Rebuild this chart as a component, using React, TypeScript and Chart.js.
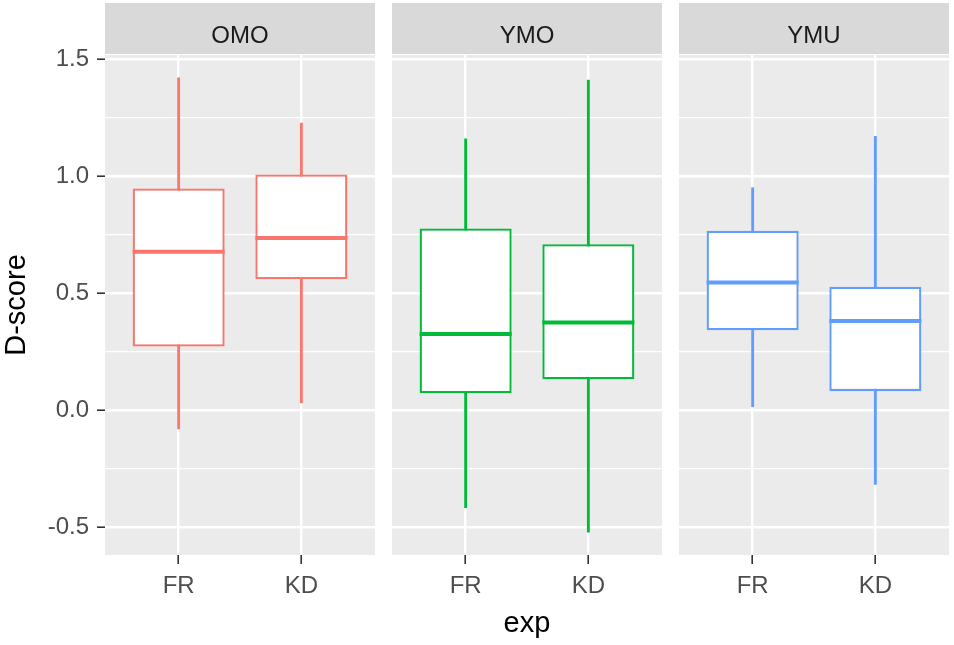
import React, { useEffect, useRef } from "react";
import { Chart, registerables } from "chart.js";

Chart.register(...registerables);

// ---------- data ----------
const facets = ["OMO", "YMO", "YMU"];
const categories = ["FR", "KD"];
const facetColors = ["#F8766D", "#00BA38", "#619CFF"];
// per facet: [FR, KD]
const whiskerLow = [
  [-0.08, 0.031],
  [-0.417, -0.522],
  [0.014, -0.318],
];
const q1 = [
  [0.272, 0.559],
  [0.072, 0.132],
  [0.341, 0.081],
];
const median = [
  [0.677, 0.735],
  [0.325, 0.374],
  [0.545, 0.381],
];
const q3 = [
  [0.947, 1.007],
  [0.776, 0.709],
  [0.766, 0.527],
];
const whiskerHigh = [
  [1.42, 1.226],
  [1.159, 1.41],
  [0.95, 1.17],
];
const yTickLabels = ["-0.5", "0.0", "0.5", "1.0", "1.5"];
const xTitle = "exp";
const yTitle = "D-score";

// ---------- derived ----------
const allLow = Math.min(...whiskerLow.flat());
const allHigh = Math.max(...whiskerHigh.flat());
const yPad = (allHigh - allLow) * 0.05;
const yMin = allLow - yPad;
const yMax = allHigh + yPad;
const yMajors = yTickLabels.map((s) => parseFloat(s));
const yMinors = yMajors.slice(1).map((v, i) => (v + yMajors[i]) / 2);
const yGrid = [...yMajors, ...yMinors].sort((a, b) => a - b);
const isMajor = (v: number) => yMajors.some((m) => Math.abs(m - v) < 1e-9);

const FONT = '"Liberation Sans", Arial, sans-serif';
Chart.defaults.font.family = FONT;

const H = 645;
const AXIS_W = 105;
const PANEL_W = 270;
const panelLefts = [0, 392, 679];
const BOX_W = 0.75; // ggplot box width, in category units
const TICK_FONT = 24;
const TITLE_FONT = 29;

function makeConfig(f: number): any {
  const first = f === 0;
  const mid = f === 1;
  const pts = (a: number[][], b: number[][]) =>
    categories.map((_, i) => ({ x: i + 1, y: [a[f][i], b[f][i]] }));
  const medianPts: any[] = [];
  categories.forEach((_, i) => {
    medianPts.push({ x: i + 1 - BOX_W / 2, y: median[f][i] });
    medianPts.push({ x: i + 1 + BOX_W / 2, y: median[f][i] });
    medianPts.push({ x: i + 1.5, y: null });
  });
  const col = facetColors[f];

  const stripPlugin = {
    id: "stripAndPanel",
    beforeDraw(chart: any) {
      const { ctx, chartArea: a } = chart;
      ctx.save();
      ctx.fillStyle = "#EBEBEB";
      ctx.fillRect(a.left, a.top, a.right - a.left, a.bottom - a.top);
      ctx.fillStyle = "#D9D9D9";
      ctx.fillRect(a.left, 3, a.right - a.left, 51);
      ctx.fillStyle = "#1A1A1A";
      ctx.font = `${TICK_FONT}px ${FONT}`;
      ctx.textAlign = "center";
      ctx.textBaseline = "alphabetic";
      ctx.fillText(facets[f], (a.left + a.right) / 2, 43);
      ctx.restore();
    },
  };

  return {
    type: "bar",
    data: {
      datasets: [
        {
          type: "line",
          label: "median",
          data: medianPts,
          borderColor: col,
          borderWidth: 4,
          borderCapStyle: "butt",
          pointRadius: 0,
          spanGaps: false,
          fill: false,
          order: 1,
        },
        {
          label: "box",
          data: pts(q1, q3),
          backgroundColor: "#FFFFFF",
          borderColor: col,
          borderWidth: 2.3,
          borderSkipped: false,
          inflateAmount: 0,
          grouped: false,
          categoryPercentage: 1,
          barPercentage: BOX_W,
          order: 2,
        },
        {
          label: "whisker",
          data: pts(whiskerLow, whiskerHigh),
          backgroundColor: col,
          borderWidth: 0,
          barThickness: 2.2,
          grouped: false,
          order: 3,
        },
      ],
    },
    options: {
      responsive: false,
      animation: false,
      events: [],
      layout: { padding: { top: 55, left: 0, right: 0, bottom: 0 } },
      plugins: {
        legend: { display: false },
        tooltip: { enabled: false },
        title: { display: false },
      },
      scales: {
        x: {
          type: "linear",
          min: 0.4,
          max: 2.6,
          offset: false,
          grid: {
            offset: false,
            color: "#FFFFFF",
            lineWidth: 2.4,
            drawTicks: true,
            tickLength: 9,
            tickColor: "#333333",
            tickWidth: 1.6,
          },
          border: { display: false },
          ticks: {
            color: "#4D4D4D",
            font: { size: TICK_FONT },
            padding: 8,
            autoSkip: false,
            maxRotation: 0,
            callback: (_v: any, i: number) => categories[i],
          },
          afterBuildTicks: (s: any) => {
            s.ticks = categories.map((_, i) => ({ value: i + 1 }));
          },
          afterFit: (s: any) => {
            s.height = 90;
          },
          title: {
            display: mid,
            text: xTitle,
            color: "#000000",
            font: { size: TITLE_FONT },
            padding: { top: 0, bottom: 4 },
          },
        },
        y: {
          min: yMin,
          max: yMax,
          grid: {
            color: "#FFFFFF",
            lineWidth: (ctx: any) => (ctx.tick && isMajor(ctx.tick.value) ? 2.4 : 1.2),
            drawTicks: first,
            tickLength: 8,
            tickWidth: 1.6,
            tickColor: (ctx: any) =>
              ctx.tick && isMajor(ctx.tick.value) ? "#333333" : "rgba(0,0,0,0)",
          },
          border: { display: false },
          ticks: {
            display: first,
            color: "#4D4D4D",
            font: { size: TICK_FONT },
            padding: 8,
            autoSkip: false,
            callback: (v: any) => {
              const idx = yMajors.findIndex((m) => Math.abs(m - v) < 1e-9);
              return idx >= 0 ? yTickLabels[idx] : "";
            },
          },
          afterBuildTicks: (s: any) => {
            s.ticks = yGrid.map((v) => ({ value: v }));
          },
          afterFit: (s: any) => {
            s.width = first ? AXIS_W : 0;
          },
          title: {
            display: first,
            text: yTitle,
            color: "#000000",
            font: { size: TITLE_FONT },
            padding: { top: 0, bottom: 0 },
          },
        },
      },
    },
    plugins: [stripPlugin],
  };
}

function Panel({ f }: { f: number }) {
  const ref = useRef<HTMLCanvasElement>(null);
  const width = f === 0 ? AXIS_W + PANEL_W : PANEL_W;
  useEffect(() => {
    const chart = new Chart(ref.current as HTMLCanvasElement, makeConfig(f));
    return () => chart.destroy();
  }, [f]);
  return (
    <canvas
      ref={ref}
      width={width}
      height={H}
      style={{ position: "absolute", left: panelLefts[f], top: 0, width, height: H }}
    />
  );
}

export default function App() {
  return (
    <div
      style={{
        position: "absolute",
        left: 0,
        top: 0,
        width: 954,
        height: H,
        background: "#FFFFFF",
        overflow: "hidden",
      }}
    >
      {facets.map((_, f) => (
        <Panel key={f} f={f} />
      ))}
    </div>
  );
}
